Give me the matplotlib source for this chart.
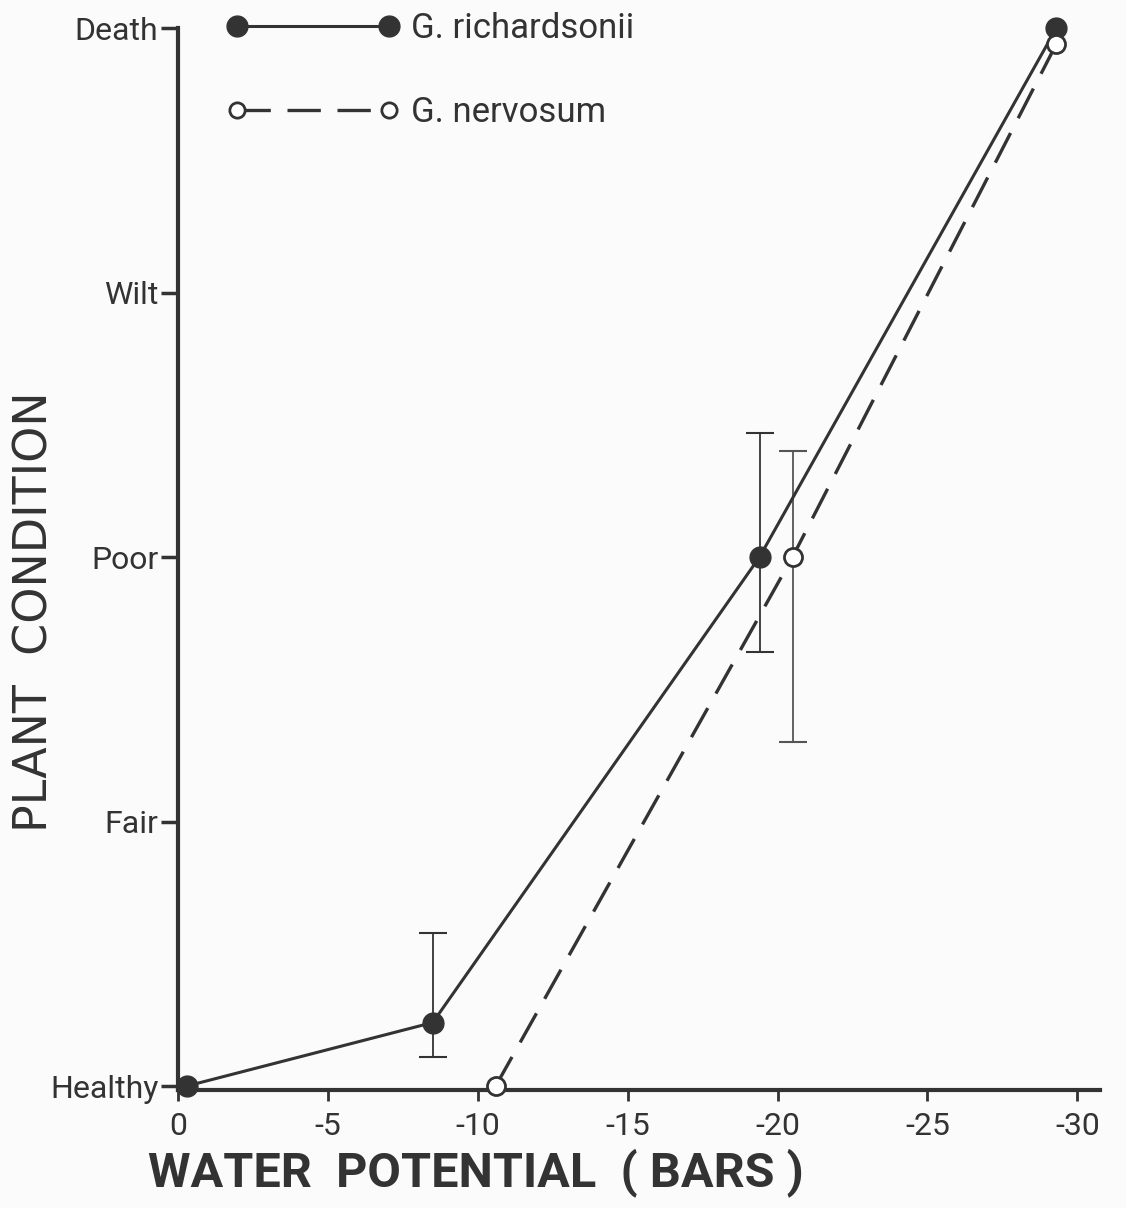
import matplotlib
matplotlib.use("Agg")
import matplotlib.pyplot as plt
from matplotlib.lines import Line2D

# Water potential (bars) and plant condition score (0 = Healthy ... 4 = Death)
rich_x = [-0.3, -8.5, -19.4, -29.3]
rich_y = [0.0, 0.24, 2.0, 4.0]
nerv_x = [-10.6, -20.5, -29.3]
nerv_y = [0.0, 2.0, 3.94]

# Error bar ranges (low, high) for selected points
rich_err_x = [-8.5, -19.4]
rich_err_y = [0.24, 2.0]
rich_err_lo = [0.11, 1.64]
rich_err_hi = [0.58, 2.47]
nerv_err_x = [-20.5]
nerv_err_y = [2.0]
nerv_err_lo = [1.30]
nerv_err_hi = [2.40]

condition_labels = ["Healthy", "Fair", "Poor", "Wilt", "Death"]
x_ticks = [0, -5, -10, -15, -20, -25, -30]

INK = "#333333"
FONT = ["Roboto", "DejaVu Sans"]

fig = plt.figure(figsize=(11.26, 12.08), dpi=100, facecolor="#fbfbfb")
ax = fig.add_axes([0.158, 0.0977, 0.819, 0.879])
ax.set_facecolor("#fbfbfb")

ax.plot(rich_x, rich_y, color=INK, lw=2.2, marker="o", ms=15,
        mfc=INK, mec=INK, clip_on=False, zorder=4)
ax.plot(nerv_x, nerv_y, color=INK, lw=2.4, dashes=(10, 5), marker="o", ms=13,
        mfc="white", mec=INK, mew=2, clip_on=False, zorder=4)

ax.errorbar(rich_err_x, rich_err_y,
            yerr=[[y - l for y, l in zip(rich_err_y, rich_err_lo)],
                  [h - y for y, h in zip(rich_err_y, rich_err_hi)]],
            fmt="none", ecolor=INK, elinewidth=1.3, capsize=10, capthick=1.5, zorder=3)
ax.errorbar(nerv_err_x, nerv_err_y,
            yerr=[[y - l for y, l in zip(nerv_err_y, nerv_err_lo)],
                  [h - y for y, h in zip(nerv_err_y, nerv_err_hi)]],
            fmt="none", ecolor="#555555", elinewidth=1.3, capsize=10, capthick=1.5, zorder=3)

ax.set_xlim(0, -30.76)
ax.set_ylim(-0.015, 4)

for s in ["top", "right"]:
    ax.spines[s].set_visible(False)
for s in ["left", "bottom"]:
    ax.spines[s].set_linewidth(3)
    ax.spines[s].set_color(INK)

ax.set_yticks(range(len(condition_labels)))
ax.set_yticklabels(condition_labels, fontsize=23, color=INK, family=FONT)
ax.set_xticks(x_ticks)
ax.set_xticklabels([str(v) for v in x_ticks], fontsize=23, color=INK, family=FONT)
ax.tick_params(axis="y", length=12, width=2.5, color=INK, pad=2)
ax.tick_params(axis="x", length=8, width=2, color=INK, pad=8)

ax.set_xlabel("WATER  POTENTIAL  ( BARS )", fontsize=35, color=INK,
              family=FONT, fontweight="bold")
ax.xaxis.set_label_coords(0.323, -0.055)
ax.set_ylabel("PLANT  CONDITION", fontsize=33, color=INK, family="DejaVu Sans")
ax.yaxis.set_label_coords(-0.131, 0.45)

handles = [
    Line2D([], [], color=INK, lw=2.2, marker="o", ms=15, mfc=INK, mec=INK),
    Line2D([], [], color=INK, lw=2.4, dashes=(10, 5), marker="o", ms=11,
           mfc="white", mec=INK, mew=2),
]
ax.legend(handles, ["G. richardsonii", "G. nervosum"], numpoints=2,
          frameon=False, loc="upper left", bbox_to_anchor=(0.053, 1.0155),
          borderaxespad=0, borderpad=0, handlelength=4.98, handletextpad=0.33,
          labelspacing=1.48, prop={"family": FONT, "size": 25},
          labelcolor=INK)

fig.savefig("out.png", dpi=100, facecolor=fig.get_facecolor())
